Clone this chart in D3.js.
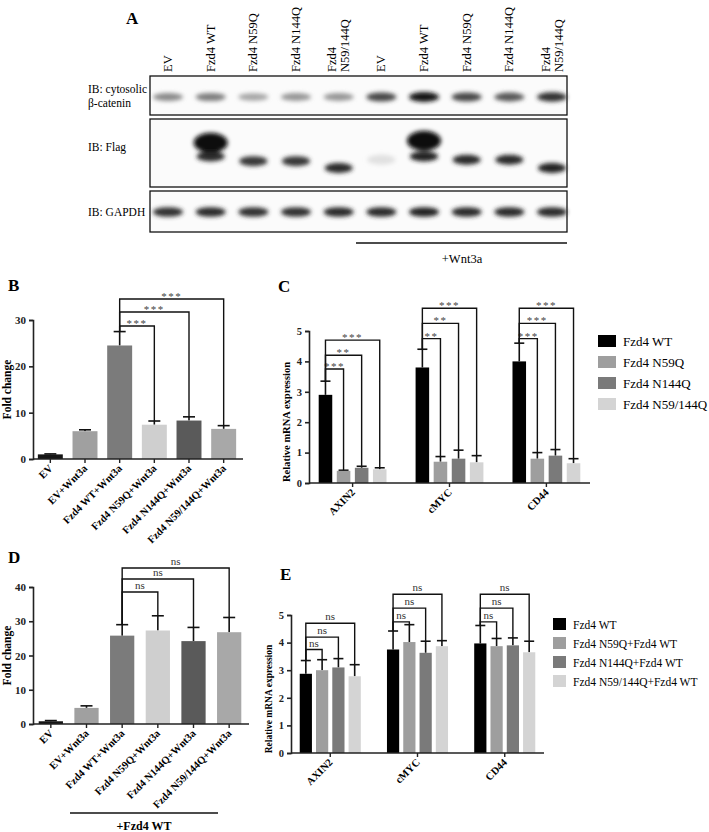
<!DOCTYPE html>
<html><head><meta charset="utf-8">
<script src="https://cdn.jsdelivr.net/npm/d3@7"></script>
<style>body{margin:0;background:#fff}svg{display:block}text{font-family:"Liberation Serif","Times New Roman",serif}</style>
</head><body>
<svg id="c" width="709" height="832"></svg>
<script>
// ---------- DATA ----------
const laneLabels = [["EV"],["Fzd4 WT"],["Fzd4 N59Q"],["Fzd4 N144Q"],["Fzd4","N59/144Q"],["EV"],["Fzd4 WT"],["Fzd4 N59Q"],["Fzd4 N144Q"],["Fzd4","N59/144Q"]];
const cateninBand = [0.45,0.5,0.33,0.4,0.4,0.72,0.95,0.72,0.66,0.82];
const gapdhBand = [0.82,0.85,0.82,0.82,0.85,0.85,0.88,0.85,0.85,0.85];
// Flag bands: lane, mobility (0 top .. 1 bottom), intensity
const flagBands = [[1,0.35,1.0],[1,0.55,0.85],[2,0.62,0.8],[3,0.62,0.8],[4,0.72,0.85],[5,0.6,0.08],[6,0.32,1.0],[6,0.55,0.9],[7,0.6,0.85],[8,0.6,0.85],[9,0.72,0.9]];

const bCats = ["EV","EV+Wnt3a","Fzd4 WT+Wnt3a","Fzd4 N59Q+Wnt3a","Fzd4 N144Q+Wnt3a","Fzd4 N59/144Q+Wnt3a"];
const bVals = [1.0,6.0,24.5,7.4,8.3,6.5];
const bErr  = [1.1,6.3,27.5,8.2,9.1,7.2];
const bSig = [[2,3,"***"],[2,4,"***"],[2,5,"***"]];
const bTicks = [0,10,20,30];

const cGenes = ["AXIN2","cMYC","CD44"];
const cSeries = ["Fzd4 WT","Fzd4 N59Q","Fzd4 N144Q","Fzd4 N59/144Q"];
const cVals = [[2.9,0.4,0.5,0.45],[3.8,0.7,0.8,0.68],[4.0,0.8,0.9,0.65]];
const cErr  = [[3.35,0.42,0.55,0.5],[4.4,0.87,1.08,0.9],[4.6,1.0,1.1,0.8]];
const cSig = [["***","**","***"],["**","**","***"],["***","***","***"]];
const cLevels = [[3.75,4.2,4.7],[4.75,5.25,5.75],[4.75,5.25,5.75]];
const cTicks = [0,1,2,3,4,5];

const dCats = ["EV","EV+Wnt3a","Fzd4 WT+Wnt3a","Fzd4 N59Q+Wnt3a","Fzd4 N144Q+Wnt3a","Fzd4 N59/144Q+Wnt3a"];
const dVals = [0.8,4.7,25.8,27.3,24.2,26.8];
const dErr  = [1.0,5.3,29.0,31.6,28.2,31.1];
const dSig = [[2,3,"ns"],[2,4,"ns"],[2,5,"ns"]];
const dTicks = [0,10,20,30,40];

const eSeries = ["Fzd4 WT","Fzd4 N59Q+Fzd4 WT","Fzd4 N144Q+Fzd4 WT","Fzd4 N59/144Q+Fzd4 WT"];
const eVals = [[2.87,3.0,3.1,2.78],[3.75,4.02,3.63,3.87],[3.97,3.87,3.9,3.65]];
const eErr  = [[3.35,3.38,3.42,3.2],[4.42,4.65,4.05,4.07],[4.62,4.15,4.17,4.05]];
const eLevels = [[3.75,4.2,4.7],[4.75,5.25,5.75],[4.75,5.25,5.75]];
const eTicks = [0,1,2,3,4,5];

const barColsBD = ["#151515","#a0a0a0","#7b7b7b","#cfcfcf","#5a5a5a","#a8a8a8"];
const seriesCols = ["#000","#9e9e9e","#7a7a7a","#d4d4d4"];

// ---------- DRAW ----------
const svg = d3.select("#c");
const defs = svg.append("defs");
defs.append("filter").attr("id","blur").attr("x","-50%").attr("y","-100%").attr("width","200%").attr("height","300%")
  .append("feGaussianBlur").attr("stdDeviation","2.2");

function letter(t,x,y){svg.append("text").attr("x",x).attr("y",y).attr("font-size",17).attr("font-weight","bold").text(t);}

// Panel A
letter("A",126,24);
const laneX = d3.scalePoint().domain(d3.range(10)).range([168,552]);
laneLabels.forEach((l,i)=>{
  const g = svg.append("g").attr("transform",`translate(${laneX(i)},72) rotate(-90)`);
  l.forEach((s,j)=>g.append("text").attr("x",0).attr("y",(j-(l.length-1)/2)*13+4).attr("font-size",12.5).text(s));
});
const rows = [{y0:76,y1:115},{y0:119,y1:187},{y0:191,y1:232}];
rows.forEach(r=>svg.append("rect").attr("x",150).attr("y",r.y0).attr("width",417).attr("height",r.y1-r.y0).attr("fill","#fbfbfb").attr("stroke","#111").attr("stroke-width",1.3));
const gray = d3.scaleLinear().domain([0,1]).range(["#f4f4f4","#080808"]);
const bandG = svg.append("g").attr("filter","url(#blur)");
cateninBand.forEach((v,i)=>bandG.append("ellipse").attr("cx",laneX(i)).attr("cy",97).attr("rx",15).attr("ry",3.2+v*1.8).attr("fill",gray(v)));
gapdhBand.forEach((v,i)=>bandG.append("ellipse").attr("cx",laneX(i)).attr("cy",212).attr("rx",15).attr("ry",4.8).attr("fill",gray(v)));
const flagY = d3.scaleLinear().domain([0,1]).range([rows[1].y0,rows[1].y1]);
flagBands.forEach(([l,m,v])=>{
  const big = (l===1||l===6)&&m<0.45;
  bandG.append("ellipse").attr("cx",laneX(l)).attr("cy",flagY(m)).attr("rx",big?17:14).attr("ry",big?10:5).attr("fill",gray(v));
});
[["IB: cytosolic",93],["β-catenin",107],["IB: Flag",151],["IB: GAPDH",216]].forEach(([t,y])=>svg.append("text").attr("x",88).attr("y",y).attr("font-size",11.5).text(t));
svg.append("line").attr("x1",356).attr("x2",567).attr("y1",243).attr("y2",243).attr("stroke","#111").attr("stroke-width",1.3);
svg.append("text").attr("x",462).attr("y",263).attr("text-anchor","middle").attr("font-size",12.5).text("+Wnt3a");

function yAxis(g,y,ticks,x,fs){
  const a = g.append("g").attr("transform",`translate(${x},0)`).call(d3.axisLeft(y).tickValues(ticks).tickSize(4).tickFormat(d3.format("d")));
  a.selectAll("path,line").attr("stroke","#222").attr("stroke-width",1.6);
  a.selectAll("text").attr("font-family","Liberation Serif").attr("font-weight","bold").attr("font-size",fs).attr("fill","#222");
}
function ylabel(t,x,y,fs){svg.append("text").attr("transform",`translate(${x},${y}) rotate(-90)`).attr("text-anchor","middle").attr("font-size",fs).attr("font-weight","bold").text(t);}
function errbar(x,yTop,yBase,w){
  svg.append("line").attr("x1",x).attr("x2",x).attr("y1",yBase).attr("y2",yTop).attr("stroke","#111").attr("stroke-width",1.6);
  svg.append("line").attr("x1",x-w).attr("x2",x+w).attr("y1",yTop).attr("y2",yTop).attr("stroke","#111").attr("stroke-width",1.6);
}
function bracket(x1,x2,yl,yEnd1,yEnd2,label,star,fs){
  svg.append("path").attr("d",`M${x1},${yEnd1}V${yl}H${x2}V${yEnd2}`).attr("fill","none").attr("stroke","#111").attr("stroke-width",1.4);
  svg.append("text").attr("x",(x1+x2)/2).attr("y",star?yl+1:yl-3).attr("text-anchor","middle").attr("font-size",fs).attr("fill",star?"#444":"#333").attr("letter-spacing",star?1.5:0).text(label);
}

function simplePanel(o){
  const x = d3.scaleBand().domain(d3.range(o.vals.length)).range([o.x0,o.x1]).paddingInner(o.pad).paddingOuter(o.pad/2);
  const y = d3.scaleLinear().domain([0,o.ymax]).range([o.yb,o.yt]);
  o.vals.forEach((v,i)=>{
    const cx = x(i)+x.bandwidth()/2;
    errbar(cx,y(o.err[i]),y(v),o.capW);
    svg.append("rect").attr("x",x(i)).attr("y",y(v)).attr("width",x.bandwidth()).attr("height",y(0)-y(v)).attr("fill",o.cols[i]);
  });
  yAxis(svg,y,o.ticks,o.x0,11);
  svg.append("line").attr("x1",o.x0).attr("x2",o.x1+2).attr("y1",y(0)).attr("y2",y(0)).attr("stroke","#222").attr("stroke-width",1.6);
  o.cats.forEach((c,i)=>{
    const cx = x(i)+x.bandwidth()/2;
    svg.append("line").attr("x1",cx).attr("x2",cx).attr("y1",y(0)).attr("y2",y(0)+4).attr("stroke","#222").attr("stroke-width",1.4);
    svg.append("text").attr("transform",`translate(${cx+3},${y(0)+10}) rotate(-45)`).attr("text-anchor","end").attr("font-size",10.5).attr("font-weight","bold").text(c);
  });
  o.sig.forEach(([a,b,l],k)=>{
    const xa = x(a)+x.bandwidth()/2, xb = x(b)+x.bandwidth()/2;
    bracket(xa,xb,o.levels[k],y(o.err[a]),y(o.err[b]),l,o.star,11);
  });
  ylabel("Fold change",o.x0-22,(o.yb+o.yt)/2,11.5);
}
letter("B",8,291);
simplePanel({vals:bVals,err:bErr,cats:bCats,sig:bSig,ticks:bTicks,cols:barColsBD,x0:33,x1:241,pad:0.28,ymax:30,yb:459,yt:320,capW:6,levels:[326,312,299],star:true});

letter("D",8,563);
simplePanel({vals:dVals,err:dErr,cats:dCats,sig:dSig,ticks:dTicks,cols:barColsBD,x0:33,x1:247,pad:0.32,ymax:40,yb:724,yt:587,capW:6,levels:[592,579,568],star:false});
svg.append("line").attr("x1",70).attr("x2",218).attr("y1",813).attr("y2",813).attr("stroke","#111").attr("stroke-width",1.4);
svg.append("text").attr("x",144).attr("y",830).attr("text-anchor","middle").attr("font-size",12).attr("font-weight","bold").text("+Fzd4 WT");

function groupPanel(o){
  const x0 = d3.scaleBand().domain(d3.range(3)).range([o.x0,o.x1]).paddingInner(o.gpad).paddingOuter(o.gpad/3);
  const x1 = d3.scaleBand().domain(d3.range(4)).range([0,x0.bandwidth()]).paddingInner(0.25);
  const y = d3.scaleLinear().domain([0,5]).range([o.yb,o.yt]);
  o.vals.forEach((gv,g)=>gv.forEach((v,s)=>{
    const bx = x0(g)+x1(s), cx = bx+x1.bandwidth()/2;
    errbar(cx,y(o.err[g][s]),y(v),5);
    svg.append("rect").attr("x",bx).attr("y",y(v)).attr("width",x1.bandwidth()).attr("height",y(0)-y(v)).attr("fill",seriesCols[s]);
  }));
  yAxis(svg,y,cTicks,o.x0,10.5);
  svg.append("line").attr("x1",o.x0).attr("x2",o.x1).attr("y1",y(0)).attr("y2",y(0)).attr("stroke","#222").attr("stroke-width",1.6);
  cGenes.forEach((c,g)=>{
    const cx = x0(g)+x0.bandwidth()/2;
    svg.append("line").attr("x1",cx).attr("x2",cx).attr("y1",y(0)).attr("y2",y(0)+4).attr("stroke","#222").attr("stroke-width",1.4);
    svg.append("text").attr("transform",`translate(${cx+3},${y(0)+10}) rotate(-45)`).attr("text-anchor","end").attr("font-size",10.5).attr("font-weight","bold").text(c);
    const xa = x0(g)+x1(0)+x1.bandwidth()/2;
    [1,2,3].forEach((s,k)=>{
      const xb = x0(g)+x1(s)+x1.bandwidth()/2;
      bracket(xa,xb,y(o.levels[g][k]),y(o.err[g][0]),y(o.err[g][s]),o.sig?o.sig[g][k]:"ns",!!o.sig,11);
    });
  });
  ylabel("Relative mRNA expression",o.x0-19,(o.yb+o.yt)/2+15,o.lfs);
  o.series.forEach((s,i)=>{
    svg.append("rect").attr("x",o.lx).attr("y",o.ly+i*o.ldy-6).attr("width",o.lw).attr("height",12).attr("fill",seriesCols[i]);
    svg.append("text").attr("x",o.lx+o.lw+7).attr("y",o.ly+i*o.ldy+4.5).attr("font-size",o.tfs).text(s);
  });
}
letter("C",278,292);
groupPanel({vals:cVals,err:cErr,sig:cSig,levels:cLevels,series:cSeries,x0:309,x1:590,gpad:0.3,yb:483,yt:331,lfs:10.5,lx:598,lw:18,ly:341,ldy:21,tfs:13});
letter("E",280,580);
groupPanel({vals:eVals,err:eErr,sig:null,levels:eLevels,series:eSeries,x0:291,x1:544,gpad:0.3,yb:753,yt:615,lfs:9.5,lx:553,lw:13,ly:624,ldy:19,tfs:11.5});
</script>
</body></html>
